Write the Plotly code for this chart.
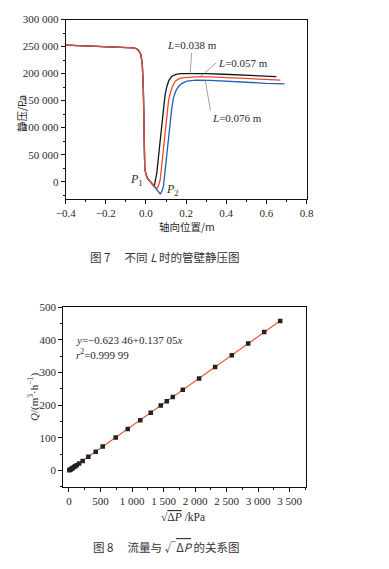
import plotly.graph_objects as go

# ---------------- Fig 7 data: wall static pressure for different L ----------------
shared_x = [-0.4, -0.3, -0.2, -0.1, -0.06, -0.045, -0.035, -0.025, -0.018, -0.013, -0.011, -0.009, -0.006, 0.0, 0.008]
shared_p = [252500, 251300, 250200, 249000, 247500, 245500, 242000, 235000, 215000, 170000, 100000, 45000, 24000, 14000, 6000]

black_x = shared_x + [0.041, 0.048, 0.054, 0.062, 0.071, 0.079, 0.087, 0.095, 0.104, 0.115, 0.129, 0.15, 0.171, 0.22, 0.3, 0.387, 0.5, 0.6, 0.65]
black_p = shared_p + [-8500, 2000, 16000, 45000, 78000, 112000, 139000, 160000, 176000, 188000, 195000, 198500, 200000, 200500, 200000, 198700, 197000, 195500, 194500]

red_x = shared_x + [0.054, 0.062, 0.071, 0.079, 0.087, 0.095, 0.104, 0.112, 0.121, 0.133, 0.146, 0.165, 0.187, 0.25, 0.32, 0.387, 0.5, 0.6, 0.67]
red_p = shared_p + [-13000, -8000, 3700, 32000, 65000, 97000, 127000, 148000, 164000, 177000, 186000, 190500, 192500, 194000, 194000, 192600, 191000, 189500, 188000]

blue_x = shared_x + [0.071, 0.079, 0.087, 0.095, 0.104, 0.112, 0.121, 0.129, 0.137, 0.149, 0.162, 0.18, 0.204, 0.25, 0.32, 0.387, 0.5, 0.6, 0.69]
blue_p = shared_p + [-22500, -18000, -8700, 20000, 53000, 85000, 115000, 137000, 155000, 168000, 176000, 182000, 186000, 188000, 187500, 186000, 184000, 182000, 181000]

# ---------------- Fig 8 data: flow rate vs sqrt(dP) ----------------
sqrt_dp = [5, 16, 30, 45, 59, 80, 100, 122, 160, 217, 307, 424, 535, 741, 932, 1130, 1296, 1455, 1551, 1646, 1805, 2063, 2317, 2582, 2841, 3095, 3349]
flow_q = [0.1, 1.6, 3.5, 5.5, 7.5, 10.4, 13, 16, 21, 29, 41.5, 57.5, 73, 101, 127, 154, 177, 199, 212, 225, 247, 282, 317, 353, 389, 424, 458]
fit_x = [0, 3360]
fit_q = [-0.6, 460]

# page body has an 8 px margin: the figure starts at (8, 8) of the window
OFF = 8
W, H = 389 - 2 * OFF, 569 - 2 * OFF
SERIF = "Liberation Serif"
CJK = "Noto Sans CJK SC"
TXT = "#2a2a2a"

def fx(px):
    return (px - OFF) / W

def fy(py):
    return (H - (py - OFF)) / H

def px_x(a, b):
    return [fx(a), fx(b)]

def px_y(top, bottom):
    return [fy(bottom), fy(top)]

fig = go.Figure()

fig.add_trace(go.Scatter(x=black_x, y=black_p, mode="lines", line=dict(color="#151515", width=1.3), xaxis="x", yaxis="y", showlegend=False))
fig.add_trace(go.Scatter(x=blue_x, y=blue_p, mode="lines", line=dict(color="#1f5fbf", width=1.3), xaxis="x", yaxis="y", showlegend=False))
fig.add_trace(go.Scatter(x=red_x, y=red_p, mode="lines", line=dict(color="#ec4a2a", width=1.3), xaxis="x", yaxis="y", showlegend=False))

fig.add_trace(go.Scatter(x=fit_x, y=fit_q, mode="lines", line=dict(color="#f05a35", width=1.2), xaxis="x2", yaxis="y2", showlegend=False))
fig.add_trace(go.Scatter(x=sqrt_dp, y=flow_q, mode="markers", marker=dict(symbol="square", size=4.5, color="#222222"), xaxis="x2", yaxis="y2", showlegend=False))

axis_common = dict(
    showline=True, linecolor="#111111", linewidth=1, mirror=True,
    ticks="outside", ticklen=4, tickwidth=1, tickcolor="#111111",
    showgrid=False, zeroline=False, automargin=False,
    tickfont=dict(family=SERIF, size=11, color=TXT),
)

fig.update_layout(
    width=W, height=H,
    margin=dict(l=0, r=0, t=0, b=0, pad=0, autoexpand=False),
    paper_bgcolor="white", plot_bgcolor="white",
    separators=". ",
    xaxis=dict(axis_common, domain=px_x(65.7, 306.5), range=[-0.4, 0.8], dtick=0.2, tick0=0,
               tickformat=".1f", anchor="y",
               minor=dict(dtick=0.1, ticklen=2, ticks="outside", tickcolor="#111111")),
    yaxis=dict(axis_common, domain=px_y(19.5, 199), range=[-32000, 300000], dtick=50000, tick0=0,
               tickformat=",d", anchor="x",
               minor=dict(dtick=25000, ticklen=2, ticks="outside", tickcolor="#111111")),
    xaxis2=dict(axis_common, domain=px_x(63.3, 305.5), range=[-90, 3750], dtick=500, tick0=0,
                tickformat=",d", anchor="y2",
                minor=dict(dtick=250, ticklen=2, ticks="outside", tickcolor="#111111")),
    yaxis2=dict(axis_common, domain=px_y(307.3, 486.7), range=[-50, 500], dtick=100, tick0=0,
                tickformat="d", anchor="x2",
                minor=dict(dtick=50, ticklen=2, ticks="outside", tickcolor="#111111")),
)

ann = []
lead = dict(showarrow=True, arrowhead=0, arrowwidth=0.7, arrowcolor="#777777", standoff=0,
            font=dict(family=SERIF, size=11, color=TXT), xref="x", yref="y")
ann.append(dict(lead, x=0.22, y=199500, ax=1.5, ay=-21, xanchor="center", yanchor="bottom",
                text="<i>L</i>=0.038 m"))
ann.append(dict(lead, x=0.27, y=193800, ax=16, ay=-14, xanchor="left", yanchor="middle",
                text="<i>L</i>=0.057 m"))
ann.append(dict(lead, x=0.296, y=187200, ax=5, ay=30, xanchor="left", yanchor="top",
                text="<i>L</i>=0.076 m"))
ann.append(dict(x=-0.049, y=3700, xref="x", yref="y", showarrow=False, xanchor="center", yanchor="middle",
                text="<i>P</i><sub>1</sub>", font=dict(family=SERIF, size=12, color=TXT)))
ann.append(dict(x=0.131, y=-15700, xref="x", yref="y", showarrow=False, xanchor="center", yanchor="middle",
                text="<i>P</i><sub>2</sub>", font=dict(family=SERIF, size=12, color=TXT)))

C = dict(xref="paper", yref="paper", showarrow=False, xanchor="center", yanchor="middle")
# axis titles and captions (fig 7)
ann.append(dict(C, x=fx(21), y=fy(114), textangle=-90,
                text="静压/Pa", font=dict(family=CJK, size=10.5, color=TXT)))
ann.append(dict(C, x=fx(187), y=fy(227),
                text="轴向位置/m", font=dict(family=CJK, size=10.5, color=TXT)))
ann.append(dict(C, x=fx(164), y=fy(257),
                text="图 7　 不同 <i>L</i> 时的管壁静压图", font=dict(family=CJK, size=11.5, color="#333333")))

# fig 8 annotations
ann.append(dict(x=79, y=401, xref="x2", yref="y2", showarrow=False, xanchor="left", yanchor="middle",
                text="<i>y</i>=−0.623 46+0.137 05<i>x</i>", font=dict(family=SERIF, size=11, color=TXT)))
ann.append(dict(x=79, y=358, xref="x2", yref="y2", showarrow=False, xanchor="left", yanchor="middle",
                text="<i>r</i><sup>2</sup>=0.999 99", font=dict(family=SERIF, size=11, color=TXT)))
ann.append(dict(C, x=fx(33), y=fy(397), textangle=-90,
                text="<i>Q</i>/(m<sup>3</sup>·h<sup>−1</sup>)", font=dict(family=SERIF, size=11, color=TXT)))
ann.append(dict(C, x=fx(183), y=fy(517),
                text="√<span style='text-decoration:overline'>Δ<i>P</i></span> /kPa",
                font=dict(family=SERIF, size=11.5, color=TXT)))
ann.append(dict(C, x=fx(166), y=fy(547),
                text="图 8　 流量与 √<span style='text-decoration:overline'>Δ<i>P</i></span> 的关系图",
                font=dict(family=CJK, size=11.5, color="#333333")))

fig.update_layout(annotations=ann)

fig.write_html("out.html")
